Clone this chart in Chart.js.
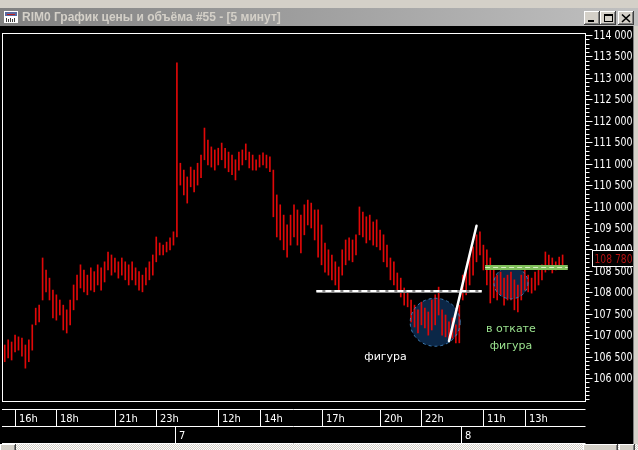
<!DOCTYPE html>
<html>
<head>
<meta charset="utf-8">
<script src="https://cdn.jsdelivr.net/npm/chart.js@4"></script>
<style>
html, body { margin: 0; padding: 0; background: #000; overflow: hidden; }
</style>
</head>
<body>
<canvas id="rim" width="638" height="450"></canvas>
<script>
// window caption
const titleText = 'RIM0 График цены и объёма #55 - [5 минут]';

// trading sessions shown (10-minute bars, evening clearing 18:45-19:00 skipped)
const sessionDays = ['6', '7', '8'];
const sessionStart = ['15:30', '10:00', '10:00'];
const sessionEnd = ['23:50', '23:50', '15:50'];
const skipTimes = ['18:50'];

// time axis labels
const hourLabels = ['16h', '18h', '21h', '23h', '12h', '14h', '17h', '20h', '22h', '11h', '13h'];
const hourAt = ['6 16:00', '6 18:00', '6 21:00', '6 23:00', '7 12:00', '7 14:00', '7 17:00', '7 20:00', '7 22:00', '8 11:00', '8 13:00'];
const dateLabels = ['7', '8'];
const dateAt = ['7 10:00', '8 10:00'];

// price axis labels
const priceTicks = [106000, 106500, 107000, 107500, 108000, 108500, 109000, 109500, 110000,
    110500, 111000, 111500, 112000, 112500, 113000, 113500, 114000];
const priceMinorStep = 100;
const priceMin = 105464;
const priceMax = 114047;
const lastPrice = 108780;

// bar lows / highs
const barLow = [
    106380, 106470, 106420, 106610, 106650, 106510, 106230, 106380, 106650, 107240,
    107310, 107820, 108010, 107820, 107400, 107350, 107470, 107120, 107050, 107240,
    107590, 107820, 108100, 108010, 107940, 108050, 108010, 108170, 108050, 108240,
    108520, 108400, 108470, 108330, 108400, 108290, 108170, 108290, 108170, 108050,
    108010, 108170, 108290, 108400, 108710, 108870, 108870, 108940, 108990, 109100,
    109290, 110500, 110270, 110080, 110460, 110340, 110500, 110670, 111090, 110970,
    110920, 110850, 110970, 111090, 110900, 110810, 110740, 110620, 110850, 110970,
    111090, 110900, 110850, 110850, 110920, 110970, 110900, 110810, 109760, 109290,
    109220, 108990, 108820, 109100, 109290, 109100, 108920, 109340, 109570, 109500,
    109220, 108820, 108640, 108470, 108400, 108290, 108170, 108050, 108400, 108640,
    108750, 108710, 108870, 109340, 109290, 109150, 109220, 109100, 109060, 108990,
    108710, 108590, 108290, 108170, 108010, 107890, 107700, 107660, 107310, 107190,
    107050, 107240, 107170, 107000, 107120, 107240, 107470, 107000, 106960, 106890,
    106930, 106820, 106820, 107820, 107940, 108170, 108400, 108710, 108870, 108520,
    108170, 107750, 107870, 107820, 107940, 107700, 107820, 107820, 107590, 107540,
    107820, 108050, 108010, 107980, 108050, 108170, 108290, 108470, 108520, 108450,
    108520, 108570, 108610
];
const barHigh = [
    106770, 106890, 106840, 107000, 106960, 106930, 106770, 106890, 107240, 107630,
    107700, 108800, 108520, 108330, 108050, 107940, 107820, 107700, 107590, 107820,
    108170, 108400, 108640, 108520, 108400, 108570, 108480, 108640, 108570, 108710,
    108940, 108870, 108800, 108710, 108800, 108710, 108640, 108710, 108570, 108480,
    108400, 108570, 108710, 108870, 109290, 109150, 109100, 109170, 109270, 109410,
    113350, 111010, 110850, 110690, 110920, 110850, 111010, 111200, 111830, 111550,
    111390, 111320, 111360, 111480, 111360, 111270, 111200, 111090, 111270, 111320,
    111460, 111270, 111200, 111090, 111200, 111250, 111200, 111160, 110850, 110270,
    110040, 109800, 109570, 109800, 110040, 109920, 109800, 110040, 110150, 110080,
    109920, 109920, 109570, 109150, 108990, 108870, 108710, 108590, 108990, 109220,
    109270, 109220, 109340, 109990, 109870, 109760, 109800, 109640, 109690, 109450,
    109340, 109100, 108800, 108710, 108450, 108330, 108100, 108010, 107820, 107700,
    107590, 107770, 107630, 107540, 107820, 107940, 108120, 107590, 107470, 107310,
    107400, 107240, 107700, 108400, 108520, 108870, 109060, 109340, 109410, 109100,
    108990, 108800, 108520, 108400, 108470, 108330, 108400, 108470, 108290, 108170,
    108400, 108520, 108400, 108330, 108470, 108590, 108640, 108940, 108870, 108800,
    108710, 108820, 108870
];

// hand drawn marks (anchored to bar times and prices)
const whiteLevel = { from: '7 16:50', to: '8 10:50', price: 108020 };
const greenLevel = { from: '8 11:10', to: '8 15:00', price: 108590 };
const figureCircle = { at: '7 22:40', price: 107300 };
const pullbackCircle = { at: '8 12:20', price: 108220 };
const breakLine = { from: '7 23:20', fromPrice: 106860, to: '8 10:40', toPrice: 109550 };
const figureNote = { at: '7 20:10', price: 106490, text: 'фигура' };
const pullbackNotes = [
    { at: '8 12:20', price: 107144, text: 'в откате' },
    { at: '8 12:20', price: 106750, text: 'фигура' }
];

// build the bar time labels
const labels = [];
sessionDays.forEach((d, k) => {
    let [h, m] = sessionStart[k].split(':').map(Number);
    const [eh, em] = sessionEnd[k].split(':').map(Number);
    while (h * 60 + m <= eh * 60 + em) {
        const t = String(h).padStart(2, '0') + ':' + String(m).padStart(2, '0');
        if (!skipTimes.includes(t)) labels.push(d + ' ' + t);
        m += 10;
        if (m >= 60) { m -= 60; h++; }
    }
});

const axisFont = '12px "Liberation Sans Narrow", "DejaVu Sans Condensed", sans-serif';
const fmtPrice = v => String(v).replace(/\B(?=(\d{3})+(?!\d))/g, ' ');

function bevel(c, x, y, w, h) {
    c.fillStyle = '#d4d0c8';
    c.fillRect(x, y, w, h);
    c.fillStyle = '#fff';
    c.fillRect(x, y, w - 1, 1);
    c.fillRect(x, y, 1, h - 1);
    c.fillStyle = '#404040';
    c.fillRect(x, y + h - 1, w, 1);
    c.fillRect(x + w - 1, y, 1, h);
    c.fillStyle = '#808080';
    c.fillRect(x + 1, y + h - 2, w - 2, 1);
    c.fillRect(x + w - 2, y + 1, 1, h - 2);
}

const terminal = {
    id: 'terminal',
    beforeDraw(chart) {
        const c = chart.ctx;
        c.save();
        c.fillStyle = '#000';
        c.fillRect(0, 0, chart.width, chart.height);
        c.restore();
    },
    beforeDatasetsDraw(chart) {
        const c = chart.ctx, xs = chart.scales.x, ys = chart.scales.y;
        c.save();
        [[figureCircle, 25, 24], [pullbackCircle, 17, 16]].forEach(([o, rx, ry]) => {
            const cx = xs.getPixelForValue(labels.indexOf(o.at));
            const cy = ys.getPixelForValue(o.price);
            c.beginPath();
            c.ellipse(cx, cy, rx, ry, 0, 0, Math.PI * 2);
            c.fillStyle = '#0b2747';
            c.fill();
        });
        c.restore();
    },
    afterDatasetsDraw(chart) {
        const c = chart.ctx, xs = chart.scales.x, ys = chart.scales.y;
        const half = xs.width / labels.length / 2;
        c.save();
        // circle outlines
        [[figureCircle, 25, 24], [pullbackCircle, 17, 16]].forEach(([o, rx, ry]) => {
            const cx = xs.getPixelForValue(labels.indexOf(o.at));
            const cy = ys.getPixelForValue(o.price);
            c.beginPath();
            c.ellipse(cx, cy, rx, ry, 0, 0, Math.PI * 2);
            c.setLineDash([3, 3]);
            c.strokeStyle = '#3d7db5';
            c.lineWidth = 1;
            c.stroke();
        });
        c.setLineDash([]);
        // white/grey level
        let x1 = xs.getPixelForValue(labels.indexOf(whiteLevel.from)) - half;
        let x2 = xs.getPixelForValue(labels.indexOf(whiteLevel.to)) + half;
        let y = Math.round(ys.getPixelForValue(whiteLevel.price));
        c.fillStyle = '#8c8c8c';
        c.fillRect(x1, y - 1, x2 - x1, 3);
        c.strokeStyle = '#fff';
        c.lineWidth = 2;
        c.setLineDash([6, 3]);
        c.beginPath(); c.moveTo(x1, y); c.lineTo(x2, y); c.stroke();
        // green level
        x1 = xs.getPixelForValue(labels.indexOf(greenLevel.from)) - half;
        x2 = xs.getPixelForValue(labels.indexOf(greenLevel.to)) + half;
        y = Math.round(ys.getPixelForValue(greenLevel.price));
        c.fillStyle = '#7fbf5a';
        c.fillRect(x1, y - 2, x2 - x1, 5);
        c.strokeStyle = '#d9f0c4';
        c.lineWidth = 1;
        c.setLineDash([5, 3]);
        c.beginPath(); c.moveTo(x1, y + 0.5); c.lineTo(x2, y + 0.5); c.stroke();
        c.setLineDash([]);
        // breakout line
        c.strokeStyle = '#fff';
        c.lineWidth = 2.5;
        c.lineCap = 'round';
        c.beginPath();
        c.moveTo(xs.getPixelForValue(labels.indexOf(breakLine.from)), ys.getPixelForValue(breakLine.fromPrice));
        c.lineTo(xs.getPixelForValue(labels.indexOf(breakLine.to)), ys.getPixelForValue(breakLine.toPrice));
        c.stroke();
        // notes
        c.font = '11px "DejaVu Sans", sans-serif';
        c.textAlign = 'center';
        c.textBaseline = 'middle';
        c.fillStyle = '#fff';
        c.fillText(figureNote.text, xs.getPixelForValue(labels.indexOf(figureNote.at)) + 2, ys.getPixelForValue(figureNote.price));
        c.fillStyle = '#9be38f';
        pullbackNotes.forEach(n => {
            c.fillText(n.text, xs.getPixelForValue(labels.indexOf(n.at)), ys.getPixelForValue(n.price));
        });
        c.restore();
    },
    afterDraw(chart) {
        const c = chart.ctx, W = chart.width, H = chart.height;
        const xs = chart.scales.x, ys = chart.scales.y, area = chart.chartArea;
        const half = xs.width / labels.length / 2;
        c.save();
        // plot frame
        c.strokeStyle = '#fff';
        c.lineWidth = 1;
        c.strokeRect(Math.round(area.left) - 0.5, Math.round(area.top) + 0.5,
            Math.round(area.right - area.left) + 1, Math.round(area.bottom - area.top));
        const axisX = Math.round(area.right) + 0.5;
        // price ticks
        c.font = axisFont;
        c.fillStyle = '#fff';
        c.textBaseline = 'middle';
        c.textAlign = 'left';
        c.beginPath();
        for (let v = priceTicks[0] - 500; v <= priceTicks[priceTicks.length - 1]; v += priceMinorStep) {
            const yy = Math.round(ys.getPixelForValue(v)) + 0.5;
            const major = priceTicks.includes(v);
            c.moveTo(axisX, yy);
            c.lineTo(axisX + (major ? 7 : 4), yy);
        }
        c.stroke();
        priceTicks.forEach(v => {
            c.fillText(fmtPrice(v), axisX + 8, Math.round(ys.getPixelForValue(v)) + 1, 39);
        });
        // last price box
        const ly = Math.round(ys.getPixelForValue(lastPrice));
        c.fillStyle = '#000';
        c.fillRect(axisX + 7, ly - 8, 50, 16);
        c.strokeRect(axisX + 7, ly - 8.5, 50, 16);
        c.fillStyle = '#b01010';
        c.fillText(fmtPrice(lastPrice), axisX + 9, ly + 1, 38);
        // time rows
        const r1 = 409.5, r2 = 426.5, r3 = 443.5;
        c.font = '11px "Liberation Sans Narrow", "DejaVu Sans Condensed", sans-serif';
        c.beginPath();
        [r1, r2, r3].forEach(yy => { c.moveTo(2, yy); c.lineTo(axisX, yy); });
        hourAt.forEach(t => {
            const xx = Math.round(xs.getPixelForValue(labels.indexOf(t))) + 0.5;
            c.moveTo(xx, r1); c.lineTo(xx, r2);
        });
        dateAt.forEach(t => {
            const xx = Math.round(xs.getPixelForValue(labels.indexOf(t)) - half) + 0.5;
            c.moveTo(xx, r2); c.lineTo(xx, r3);
        });
        c.stroke();
        c.fillStyle = '#fff';
        hourLabels.forEach((s, i) => {
            c.fillText(s, Math.round(xs.getPixelForValue(labels.indexOf(hourAt[i]))) + 4, (r1 + r2) / 2 + 1);
        });
        dateLabels.forEach((s, i) => {
            c.fillText(s, Math.round(xs.getPixelForValue(labels.indexOf(dateAt[i])) - half) + 4, (r2 + r3) / 2 + 1);
        });
        // window chrome
        c.fillStyle = '#d4d0c8';
        c.fillRect(0, 0, W, 8);
        c.fillRect(W - 4, 8, 4, H - 8);
        c.fillStyle = '#808080';
        c.fillRect(W - 5, 26, 1, H - 32);
        const g = c.createLinearGradient(0, 0, W, 0);
        g.addColorStop(0, '#808080');
        g.addColorStop(1, '#c0c0c0');
        c.fillStyle = g;
        c.fillRect(0, 8, W, 18);
        // caption icon
        c.fillStyle = '#fff';
        c.fillRect(4, 11, 14, 12);
        c.fillStyle = '#5a6aa0';
        c.fillRect(5, 12, 12, 4);
        c.fillStyle = '#c02020';
        c.fillRect(7, 14, 8, 1);
        c.fillStyle = '#404040';
        for (let i = 0; i < 5; i++) c.fillRect(6 + i * 2, 18 + (i % 2), 1, 4 - (i % 2));
        c.fillStyle = '#d4d0c8';
        c.font = 'bold 12px "Liberation Sans", "DejaVu Sans", sans-serif';
        c.textAlign = 'left';
        c.fillText(titleText, 22, 18, 262);
        // caption buttons
        [584, 600, 618].forEach(bx => bevel(c, bx, 11, 16, 14));
        c.fillStyle = '#000';
        c.fillRect(588, 20, 6, 2);
        c.strokeStyle = '#000';
        c.lineWidth = 1;
        c.strokeRect(604.5, 14.5, 8, 7);
        c.fillRect(604, 14, 9, 2);
        c.lineWidth = 1.6;
        c.beginPath();
        c.moveTo(622, 14.5); c.lineTo(630, 22);
        c.moveTo(630, 14.5); c.lineTo(622, 22);
        c.stroke();
        // scrollbar
        const pat = document.createElement('canvas');
        pat.width = 2; pat.height = 2;
        const pc = pat.getContext('2d');
        pc.fillStyle = '#d4d0c8'; pc.fillRect(0, 0, 2, 2);
        pc.fillStyle = '#fff'; pc.fillRect(0, 0, 1, 1); pc.fillRect(1, 1, 1, 1);
        c.fillStyle = c.createPattern(pat, 'repeat');
        c.fillRect(0, 444, W, 6);
        bevel(c, 0, 444, 16, 8);
        bevel(c, 583, 444, 35, 8);
        bevel(c, 619, 444, 16, 8);
        c.restore();
    }
};

new Chart(document.getElementById('rim'), {
    type: 'bar',
    data: {
        labels: labels,
        datasets: [{
            label: 'RIM0',
            data: barLow.map((lo, i) => [lo, barHigh[i]]),
            backgroundColor: '#e00808',
            borderWidth: 0,
            barThickness: 1
        }]
    },
    options: {
        responsive: false,
        animation: false,
        layout: { padding: { left: 3, right: 53, top: 33, bottom: 49 } },
        plugins: {
            legend: { display: false },
            tooltip: { enabled: false }
        },
        scales: {
            x: { display: false, offset: true },
            y: { display: false, min: priceMin, max: priceMax }
        }
    },
    plugins: [terminal]
});
</script>
</body>
</html>
